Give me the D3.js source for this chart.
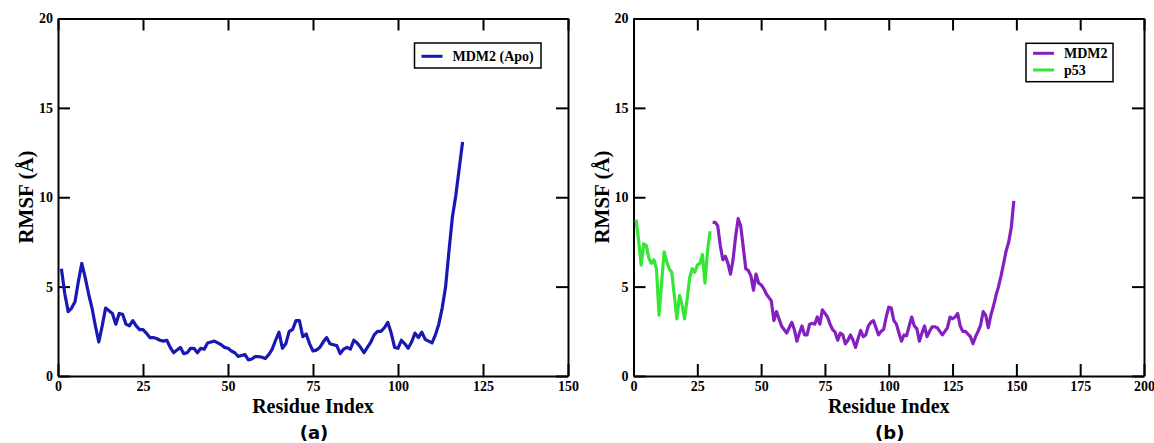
<!DOCTYPE html>
<html>
<head>
<meta charset="utf-8">
<script src="https://cdn.jsdelivr.net/npm/d3@7"></script>
<style>
  body { margin: 0; background: #fff; }
</style>
</head>
<body>
<div id="chart"></div>
<script>
// RMSF per residue
const apoStart = 1;
const apoRmsf = [
  6.0, 4.6, 3.6, 3.8, 4.15, 5.3, 6.3, 5.5, 4.6, 3.8,
  2.8, 1.9, 2.8, 3.8, 3.65, 3.5, 2.9, 3.5, 3.45, 2.9,
  2.8, 3.1, 2.8, 2.6, 2.6, 2.4, 2.15, 2.15, 2.1, 2.0,
  1.95, 2.0, 1.6, 1.3, 1.45, 1.6, 1.25, 1.3, 1.55, 1.55,
  1.3, 1.55, 1.5, 1.85, 1.9, 1.95, 1.85, 1.75, 1.6, 1.55,
  1.4, 1.3, 1.1, 1.15, 1.2, 0.9, 0.95, 1.08, 1.08, 1.05,
  0.98, 1.2, 1.5, 2.0, 2.45, 1.55, 1.8, 2.5, 2.6, 3.1,
  3.1, 2.2, 2.35, 1.8, 1.4, 1.45, 1.6, 1.9, 2.15, 1.8,
  1.75, 1.7, 1.25, 1.5, 1.6, 1.5, 2.0, 1.85, 1.6, 1.3,
  1.6, 1.9, 2.3, 2.5, 2.5, 2.7, 3.0, 2.4, 1.6, 1.55,
  2.0, 1.8, 1.55, 1.9, 2.4, 2.15, 2.45, 2.05, 1.95, 1.85,
  2.3, 2.9, 3.8, 5.0, 7.0, 8.9, 10.1, 11.6, 13.1
];

const p53Start = 1;
const p53Rmsf = [
  8.75, 7.6, 6.2, 7.4, 7.3, 6.6, 6.3, 6.5, 6.0, 3.4,
  5.2, 6.95, 6.4, 6.0, 5.8, 4.5, 3.2, 4.5, 4.0, 3.2,
  4.3, 5.5, 6.0, 5.8, 6.2, 6.3, 6.8, 5.2, 7.0, 8.1
];

const mdm2Start = 31;
const mdm2Rmsf = [
  8.6, 8.6, 8.4, 7.3, 6.5, 6.7, 6.3, 5.7, 6.5, 7.8,
  8.8, 8.4, 7.2, 6.0, 5.9, 5.6, 4.8, 5.7, 5.2, 5.1,
  4.9, 4.6, 4.4, 4.2, 3.1, 3.6, 3.2, 2.8, 2.6, 2.4,
  2.7, 3.0, 2.6, 1.95, 2.4, 2.8, 2.3, 2.3, 2.9, 2.95,
  2.9, 3.3, 2.9, 3.7, 3.5, 3.3, 2.9, 2.6, 2.45, 2.0,
  2.4, 2.3, 1.8, 2.0, 2.3, 2.0, 1.6, 2.1, 2.55, 2.2,
  2.3, 2.8, 3.0, 3.1, 2.7, 2.3, 2.5, 2.6, 3.3, 3.85,
  3.8, 3.1, 2.9, 2.4, 1.95, 2.3, 2.25, 2.8, 3.3, 2.8,
  2.65, 1.95, 2.4, 2.8, 2.2, 2.5, 2.75, 2.75, 2.7, 2.5,
  2.3, 2.5, 2.7, 3.3, 3.2, 3.3, 3.5, 2.8, 2.5, 2.5,
  2.35, 2.2, 1.8, 2.2, 2.5, 2.85, 3.6, 3.4, 2.7, 3.4,
  3.9, 4.5, 5.0, 5.6, 6.3, 7.0, 7.5, 8.3, 9.8
];

const yTicks = [0, 5, 10, 15, 20];
const xTicksA = [0, 25, 50, 75, 100, 125, 150];
const xTicksB = [0, 25, 50, 75, 100, 125, 150, 175, 200];

const apoColor = "#1818b4";
const mdm2Color = "#8420c0";
const p53Color = "#35e635";

const serif = "'Liberation Serif', 'Times New Roman', serif";

function toPoints(start, values) {
  return values.map((v, i) => ({ r: start + i, v: v }));
}

const svg = d3.select("#chart").append("svg")
  .attr("width", 1154)
  .attr("height", 443);

function drawPanel(p) {
  var x = d3.scaleLinear().domain([0, p.xMax]).range([p.left, p.right]);
  var y = d3.scaleLinear().domain([0, 20]).range([376, 18.5]);

  var g = svg.append("g");

  // mirrored inward ticks on all four sides
  var bottom = g.append("g")
    .attr("transform", "translate(0,376)")
    .call(d3.axisBottom(x).tickValues(p.xTicks).tickSizeInner(-12).tickSizeOuter(0).tickPadding(5.5));
  var top = g.append("g")
    .attr("transform", "translate(0,18.5)")
    .call(d3.axisTop(x).tickValues(p.xTicks).tickSizeInner(-12).tickSizeOuter(0).tickFormat(""));
  var left = g.append("g")
    .attr("transform", "translate(" + p.left + ",0)")
    .call(d3.axisLeft(y).tickValues(yTicks).tickSizeInner(-12).tickSizeOuter(0).tickPadding(5));
  var right = g.append("g")
    .attr("transform", "translate(" + p.right + ",0)")
    .call(d3.axisRight(y).tickValues(yTicks).tickSizeInner(-12).tickSizeOuter(0).tickFormat(""));

  [bottom, top, left, right].forEach(function(a) {
    a.select(".domain").attr("stroke", "#000").attr("stroke-width", 2);
    a.selectAll(".tick line").attr("stroke", "#000").attr("stroke-width", 2);
    a.selectAll(".tick text")
      .attr("fill", "#000")
      .style("font-family", serif)
      .style("font-weight", "bold")
      .style("font-size", "14px");
  });

  var line = d3.line()
    .x(function(d) { return x(d.r); })
    .y(function(d) { return y(d.v); });

  p.series.forEach(function(s) {
    g.append("path")
      .datum(toPoints(s.start, s.values))
      .attr("fill", "none")
      .attr("stroke", s.color)
      .attr("stroke-width", 3.2)
      .attr("stroke-linejoin", "round")
      .attr("d", line);
  });

  // axis titles
  var cx = (p.left + p.right) / 2;
  g.append("text")
    .attr("x", cx)
    .attr("y", 413)
    .attr("text-anchor", "middle")
    .style("font-family", serif)
    .style("font-weight", "bold")
    .style("font-size", "20px")
    .text("Residue Index");

  g.append("text")
    .attr("transform", "translate(" + (p.left - 25) + ",197) rotate(-90)")
    .attr("text-anchor", "middle")
    .style("font-family", serif)
    .style("font-weight", "bold")
    .style("font-size", "21px")
    .text("RMSF (Å)");

  g.append("text")
    .attr("x", cx + 1)
    .attr("y", 439)
    .attr("text-anchor", "middle")
    .style("font-family", "'DejaVu Sans', Verdana, sans-serif")
    .style("font-weight", "bold")
    .style("font-size", "18px")
    .text(p.label);

  // legend
  var lg = g.append("g");
  var rowH = 16.7;
  var multi = p.legendOrder.length > 1;
  var boxH = multi ? 38.4 : 25;
  lg.append("rect")
    .attr("x", p.legX)
    .attr("y", p.legY)
    .attr("width", p.legW)
    .attr("height", boxH)
    .attr("fill", "#fff")
    .attr("stroke", "#000")
    .attr("stroke-width", 1.5);

  p.legendOrder.forEach(function(s, i) {
    var ly = p.legY + (multi ? 10 : 13.3) + i * rowH;
    lg.append("line")
      .attr("x1", p.legX + 7)
      .attr("x2", p.legX + 28)
      .attr("y1", ly)
      .attr("y2", ly)
      .attr("stroke", s.color)
      .attr("stroke-width", 3);
    lg.append("text")
      .attr("x", p.legX + 38)
      .attr("y", ly + 4.6)
      .style("font-family", serif)
      .style("font-weight", "bold")
      .style("font-size", "14px")
      .text(s.name);
  });
}

var apo = { name: "MDM2 (Apo)", start: apoStart, values: apoRmsf, color: apoColor };
var mdm2 = { name: "MDM2", start: mdm2Start, values: mdm2Rmsf, color: mdm2Color };
var p53 = { name: "p53", start: p53Start, values: p53Rmsf, color: p53Color };

drawPanel({
  left: 58, right: 568, xMax: 150, xTicks: xTicksA, label: "(a)",
  series: [apo], legendOrder: [apo],
  legX: 414.5, legY: 43, legW: 126.5
});

drawPanel({
  left: 633.5, right: 1144, xMax: 200, xTicks: xTicksB, label: "(b)",
  series: [p53, mdm2], legendOrder: [mdm2, p53],
  legX: 1026, legY: 43.3, legW: 87
});
</script>
</body>
</html>
